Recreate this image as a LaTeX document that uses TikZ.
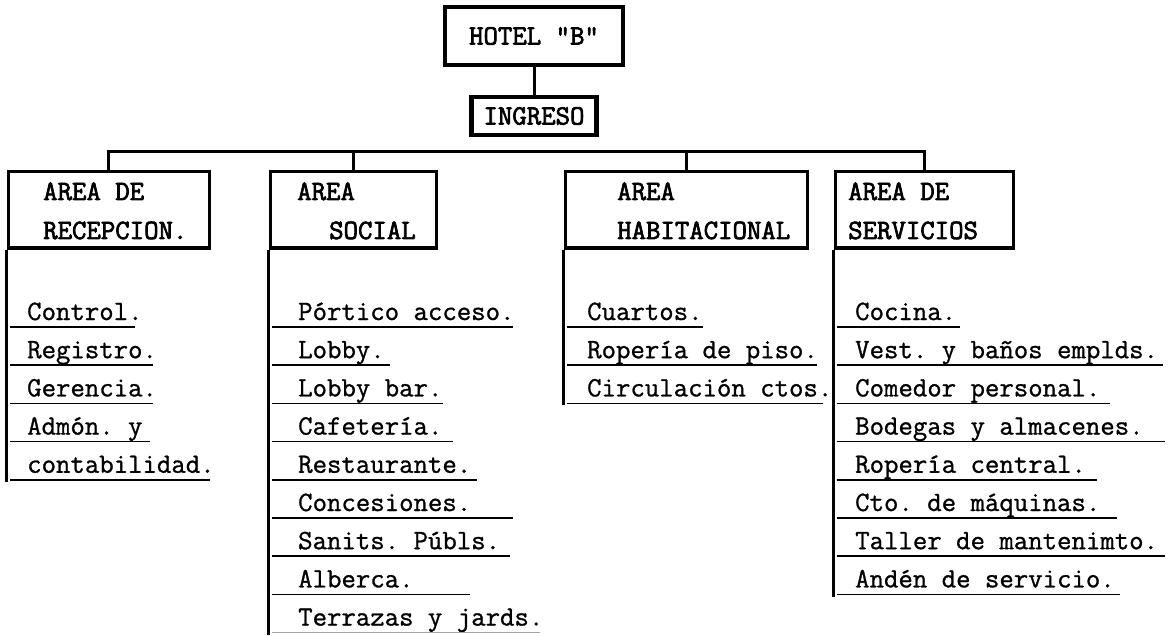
\documentclass[tikz,border=0pt]{standalone}
\usepackage{fontspec}
\newfontfamily\typefont{Latin Modern Mono}[FakeBold=1]
\newfontfamily\typeheavy{Latin Modern Mono}[FakeBold=2.5]
\frenchspacing
\begin{document}
\begin{tikzpicture}[x=1pt,y=-1pt,
    every node/.style={font=\typefont\fontsize{28}{28}\selectfont\frenchspacing},
    topbox/.style={draw,line width=4.5pt,inner sep=0pt,font=\typeheavy\fontsize{28}{28}\selectfont},
    areabox/.style={draw,line width=3pt,inner sep=0pt,minimum height=76pt},
    head/.style={anchor=base west,inner sep=0pt,font=\typeheavy\fontsize{28}{28}\selectfont\frenchspacing},
    item/.style={anchor=base west,inner sep=0pt},
    stem/.style={line width=3pt},
    rule/.style={line width=1.6pt}]
    \useasboundingbox (0,0) rectangle (1174,636);

    \node[topbox,minimum width=178pt,minimum height=58pt] (hotel)   at (534,36)  {HOTEL "B"};
    \node[topbox,minimum width=125pt,minimum height=38pt] (ingreso) at (534,116) {INGRESO};
    \draw[stem] (hotel) -- (ingreso);

    \node[areabox,minimum width=201pt] (recep)  at (108.5,210) {};
    \node[areabox,minimum width=166pt] (social) at (353,210)   {};
    \node[areabox,minimum width=242pt] (habit)  at (686,210)   {};
    \node[areabox,minimum width=178pt] (servic) at (924,210)   {};

    \coordinate (bus) at (0,152);
    \draw[stem] (recep.north) |- (bus -| servic.north) -- (servic.north);
    \draw[stem] (social.north) -- (social.north |- bus);
    \draw[stem] (habit.north)  -- (habit.north |- bus);

    \node[head] (recep-a)  at (43,200)  {AREA DE};
    \node[head] (recep-b)  at (43,239)  {RECEPCION.};
    \node[head] (social-a) at (297,200) {AREA};
    \node[head] (social-b) at (329,239) {SOCIAL};
    \node[head] (habit-a)  at (617,200) {AREA};
    \node[head] (habit-b)  at (617,239) {HABITACIONAL};
    \node[head] (servic-a) at (848,200) {AREA DE};
    \node[head] (servic-b) at (848,239) {SERVICIOS};

    % lists below the boxes
    \draw[stem] (recep.south west)  -- ++(0,232);
    \draw[stem] (social.south west) -- ++(0,385);
    \draw[stem] (habit.south west)  -- ++(0,155);
    \draw[stem] (servic.south west) -- ++(0,347);

    \foreach \txt/\ux [count=\i] in {Control./135, Registro./153, Gerencia./153,
        Admón. y/150, contabilidad./210} {
        \pgfmathsetmacro\uy{327+38.2*(\i-1)}
        \node[item] (recep-\i) at (27,\uy-7) {\txt};
        \draw[rule] (10,\uy) -- (\ux,\uy);
    }
    \foreach \txt/\ux [count=\i] in {Pórtico acceso./513, Lobby./390, Lobby bar./443,
        Cafetería./453, Restaurante./477, Concesiones./513, Sanits. Públs./510,
        Alberca./470} {
        \pgfmathsetmacro\uy{327+38.2*(\i-1)}
        \node[item] (social-\i) at (298,\uy-7) {\txt};
        \draw[rule] (271.5,\uy) -- (\ux,\uy);
    }
    \node[item] (social-9) at (298,625.6) {Terrazas y jards.};
    \draw[rule,black!35] (271.5,632.6) -- (540,632.6);
    \foreach \txt/\ux [count=\i] in {Cuartos./703, Ropería de piso./817,
        Circulación ctos./823} {
        \pgfmathsetmacro\uy{327+38.2*(\i-1)}
        \node[item] (habit-\i) at (587,\uy-7) {\txt};
        \draw[rule] (566.5,\uy) -- (\ux,\uy);
    }
    \foreach \txt/\ux [count=\i] in {Cocina./960, Vest. y baños emplds./1163,
        Comedor personal./1110, Bodegas y almacenes./1165, Ropería central./1097,
        Cto. de máquinas./1117, Taller de mantenimto./1165, Andén de servicio./1120} {
        \pgfmathsetmacro\uy{327+38.2*(\i-1)}
        \node[item] (servic-\i) at (855,\uy-7) {\txt};
        \draw[rule] (836.5,\uy) -- (\ux,\uy);
    }
\end{tikzpicture}
\end{document}
